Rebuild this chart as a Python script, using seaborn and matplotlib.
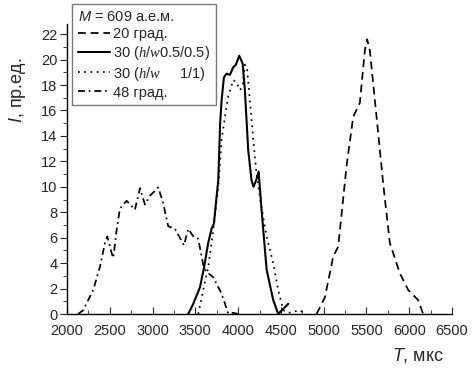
import matplotlib
matplotlib.use("Agg")
import matplotlib.pyplot as plt
import seaborn as sns
import pandas as pd
from matplotlib.ticker import MultipleLocator

# ---- data ----
t20 = [4917, 5014, 5111, 5170, 5267, 5345, 5423, 5481, 5508, 5540, 5618, 5695, 5773, 5890, 5987, 6104, 6163]
i20 = [0, 1.3, 4.5, 5.3, 11.6, 15.5, 16.6, 20.7, 21.6, 20.7, 15.5, 10.3, 5.6, 3.2, 1.9, 1.1, 0]

t30a = [3417, 3476, 3554, 3600, 3651, 3690, 3717, 3748, 3768, 3790, 3807, 3834, 3865, 3904, 3943, 3974,
        4013, 4053, 4079, 4118, 4157, 4180, 4215, 4240, 4274, 4333, 4410, 4469, 4527, 4586]
i30a = [0, 0.8, 2.1, 3.6, 5.6, 6.7, 7.1, 9.2, 10.5, 15.0, 16.8, 18.6, 18.9, 18.8, 19.4, 19.6,
        20.3, 19.7, 17.6, 12.9, 10.5, 10.0, 10.6, 11.2, 8.2, 3.5, 1.1, 0, 0.4, 0.8]

t30b = [3534, 3593, 3651, 3709, 3768, 3807, 3846, 3884, 3943, 3982, 4021, 4053, 4079, 4106, 4138,
        4177, 4216, 4270, 4333, 4410, 4469, 4527, 4600, 4722, 4780]
i30b = [0, 1.9, 3.7, 6.6, 10.0, 13.7, 15.5, 17.1, 18.4, 18.2, 17.6, 17.9, 19.6, 19.2, 16.8,
        13.7, 11.0, 8.5, 6.1, 4.0, 1.9, 0.3, 0.1, 0.3, 0]

t48 = [2130, 2190, 2307, 2385, 2444, 2471, 2522, 2541, 2580, 2619, 2697, 2794, 2853, 2911, 2970,
       3067, 3125, 3183, 3262, 3367, 3417, 3476, 3534, 3600, 3632, 3709, 3807, 3884, 3940, 4000]
i48 = [0, 0.3, 1.9, 3.7, 5.6, 6.1, 4.8, 4.4, 6.6, 8.3, 8.9, 8.2, 9.9, 8.6, 9.3,
       9.95, 8.7, 6.9, 6.7, 5.4, 6.7, 6.1, 5.9, 3.6, 3.3, 2.9, 1.6, 0.05, 0.1, 0.0]

labels = ["20 град.", r"30 ($h/w$0.5/0.5)", r"30 ($h/w$     1/1)", "48 град."]
legend_title = r"$\mathsf{M}$ = 609 а.е.м."
xlabel = r"$\mathsf{T}$, мкс"
ylabel = r"$\mathsf{I}$, пр.ед."
xticks = [2000, 2500, 3000, 3500, 4000, 4500, 5000, 5500, 6000, 6500]
yticks = [0, 2, 4, 6, 8, 10, 12, 14, 16, 18, 20, 22]

sns.set_style("ticks")
plt.rcParams["font.family"] = ["Liberation Sans", "DejaVu Sans"]
plt.rcParams["mathtext.fontset"] = "custom"
plt.rcParams["mathtext.it"] = "Liberation Serif:italic"
plt.rcParams["mathtext.rm"] = "Liberation Sans"
plt.rcParams["mathtext.sf"] = "Liberation Sans:italic"

fig = plt.figure(figsize=(4.73, 3.75), dpi=100)
ax = fig.add_axes([67/473, 1-314/375, 385/473, 290/375])

lw = 1.25
series = [
    (t20, i20, labels[0], (0, (4.5, 2.8))),
    (t30a, i30a, labels[1], "-"),
    (t30b, i30b, labels[2], (0, (1, 2.6))),
    (t48, i48, labels[3], (0, (4, 2.2, 1, 2.2))),
]
for t, i, lab, ls in series:
    df = pd.DataFrame({"T": t, "I": i})
    sns.lineplot(data=df, x="T", y="I", ax=ax, color="black", linestyle=ls,
                 linewidth=(1.5 if ls == "-" else lw), label=lab, sort=False)

ax.set_xlim(2000, 6500)
ax.set_ylim(0, 22.8)
ax.set_xticks(xticks)
ax.set_yticks(yticks)
ax.xaxis.set_minor_locator(MultipleLocator(250))
ax.yaxis.set_minor_locator(MultipleLocator(1))
ax.tick_params(axis="x", which="both", direction="in", labelsize=10.5, pad=7)
ax.tick_params(axis="x", which="major", length=5)
ax.tick_params(axis="x", which="minor", length=3)
ax.tick_params(axis="y", which="both", direction="out", labelsize=10.5, pad=2)
ax.tick_params(axis="y", which="major", length=5)
ax.tick_params(axis="y", which="minor", length=3)
for s in ["top", "right"]:
    ax.spines[s].set_visible(False)
for s in ["left", "bottom"]:
    ax.spines[s].set_linewidth(1.0)
    ax.spines[s].set_color("black")

ax.set_xlabel(xlabel, fontsize=13)
ax.set_ylabel(ylabel, fontsize=13)
ax.xaxis.set_label_coords(0.912, -0.112)
ax.yaxis.set_label_coords(-0.100, 0.77)

leg = ax.legend(title=legend_title, loc="upper left",
                bbox_to_anchor=(72/473, 1-4/375), bbox_transform=fig.transFigure,
                borderaxespad=0, fontsize=10.5, title_fontsize=10.5, frameon=True,
                fancybox=False, edgecolor="0.35", handlelength=2.2, handletextpad=0.2,
                labelspacing=0.2, borderpad=0.4)
leg._legend_box.align = "left"
leg.get_frame().set_linewidth(1.0)

fig.savefig("out.png", dpi=100)
